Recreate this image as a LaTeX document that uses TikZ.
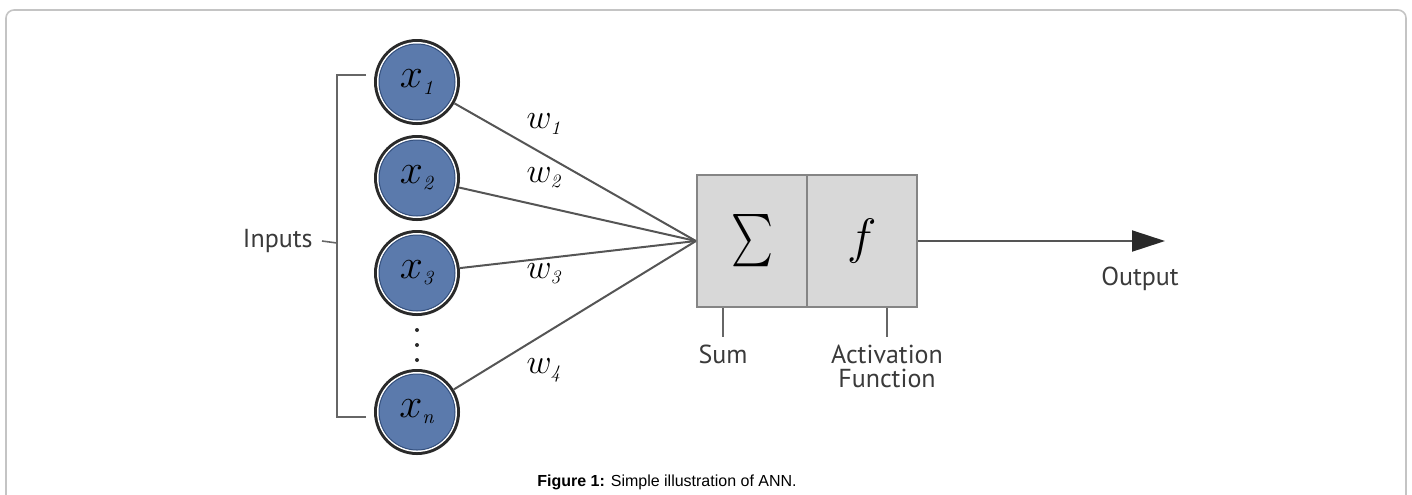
\documentclass[tikz,border=0pt]{standalone}
\usepackage{amsmath}
\usepackage{fontspec}
\newfontfamily\labfont{PT Sans}
\newfontfamily\capfont{Liberation Sans}
\usetikzlibrary{arrows.meta,calc}
\definecolor{nblue}{HTML}{5B7AAC}
\definecolor{nbluedark}{HTML}{34507E}
\definecolor{ringc}{HTML}{2A2A2A}
\definecolor{boxfill}{HTML}{D8D8D8}
\definecolor{boxline}{HTML}{858585}
\definecolor{edgec}{HTML}{555555}
\definecolor{labc}{HTML}{3A3A3A}
\definecolor{framec}{HTML}{C4C4C4}
\newcommand{\subi}[1]{_{\scriptscriptstyle\mathit{#1}}}
\tikzset{
  neuron/.style={circle, minimum size=38pt, inner sep=0pt, outer sep=2.6pt,
    fill=nblue, draw=nbluedark, line width=0.5pt,
    preaction={draw=ringc, line width=5pt},
    preaction={draw=white, line width=2pt},
    font=\fontsize{20pt}{20pt}\selectfont},
  wlab/.style={font=\fontsize{19pt}{19pt}\selectfont, inner sep=0pt},
  blockbox/.style={rectangle, minimum width=55pt, minimum height=66pt, inner sep=0pt,
    fill=boxfill, draw=boxline, line width=1.1pt},
  edge/.style={draw=edgec, line width=1pt},
  brack/.style={draw=edgec!90, line width=0.8pt},
  lab/.style={font=\labfont\fontsize{13pt}{12pt}\selectfont, text=labc, inner sep=0pt, align=center},
}
\begin{document}
\begin{tikzpicture}[x=0.5pt,y=-0.5pt]
\useasboundingbox (0,0) rectangle (1412,494);
% frame
\draw[framec, line width=0.8pt, rounded corners=4pt] (6,500) -- (6,10) -- (1406,10) -- (1406,500);
% neurons
\node[neuron] (x1) at (417,82) {$x\subi{1}$};
\node[neuron] (x2) at (417,178) {$x\subi{2}$};
\node[neuron] (x3) at (417,273) {$x\subi{3}$};
\node[neuron] (xn) at (417,412) {$x\subi{n}$};
% dots
\foreach \yy in {330,345,360} \fill[ringc] (417,\yy) circle (1pt);
% bracket
\coordinate (bt) at (366,75);
\coordinate (bb) at (366,417);
\coordinate (btl) at (337,75);
\coordinate (bbl) at (337,417);
\coordinate (bm) at (337,243);
\draw[brack] (bt) -- (btl) -- (bbl) -- (bb);
\node[lab, anchor=east] (inp) at (313,241) {Inputs};
\draw[brack] ($(inp.east)+(9,0)$) -- (bm);
% boxes
\node[blockbox] (sumbox) at (752,241) {\fontsize{25pt}{25pt}\selectfont\scalebox{0.8}[1.05]{$\textstyle\sum$}};
\node[blockbox] (fbox) at (862,241) {\fontsize{27pt}{27pt}\selectfont$f$};
% edges
\draw[edge] (x1) -- (sumbox.west);
\draw[edge] (x2) -- (sumbox.west);
\draw[edge] (x3) -- (sumbox.west);
\draw[edge] (xn) -- (sumbox.west);
% weights
\node[wlab] (w1) at (544,124) {$w\subi{1}$};
\node[wlab] (w2) at (544,178) {$w\subi{2}$};
\node[wlab] (w3) at (544,274) {$w\subi{3}$};
\node[wlab] (w4) at (544,370) {$w\subi{4}$};
% output
\coordinate (outc) at (1165,241);
\draw[edge, -{Triangle[length=16.5pt,width=10.5pt,color=ringc]}] (fbox.east) -- (outc);
\node[lab] (outlab) at (1140,279) {Output};
% sub labels
\node[lab, anchor=north] (sumlab) at (723,345) {Sum};
\node[lab, anchor=north] (actlab) at (887,345) {Activation\\Function};
\draw[brack] (sumbox.south -| sumlab.north) -- ($(sumlab.north)+(0,-8)$);
\draw[brack] (fbox.south -| actlab.north) -- ($(actlab.north)+(0,-8)$);
% caption
\node[font=\capfont\fontsize{8pt}{9pt}\selectfont, inner sep=0pt] (cap) at (667,482) {\textbf{Figure 1:} Simple illustration of ANN.};
\end{tikzpicture}
\end{document}
